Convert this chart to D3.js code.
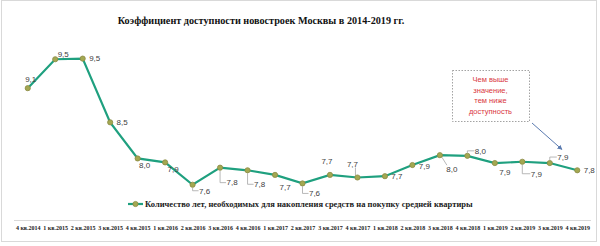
<!DOCTYPE html>
<html>
<head>
<meta charset="utf-8">
<script src="https://cdn.jsdelivr.net/npm/d3@7"></script>
<style>
  body { margin: 0; background: #fff; }
</style>
</head>
<body>
<div id="chart"></div>
<script>
// data
var quarters = ["4 кв.2014", "1 кв.2015", "2 кв.2015", "3 кв.2015", "4 кв.2015", "1 кв.2016", "2 кв.2016",
    "3 кв.2016", "4 кв.2016", "1 кв.2017", "2 кв.2017", "3 кв.2017", "4 кв.2017", "1 кв.2018", "2 кв.2018",
    "3 кв.2018", "4 кв.2018", "1 кв.2019", "2 кв.2019", "3 кв.2019", "4 кв.2019"];
var years = [9.06, 9.50, 9.51, 8.54, 7.99, 7.93, 7.59, 7.85, 7.81, 7.74, 7.61, 7.74, 7.70, 7.72, 7.89,
    8.04, 8.03, 7.92, 7.94, 7.92, 7.81];
var title = "Коэффициент доступности новостроек Москвы в 2014-2019 гг.";
var seriesName = "Количество лет, необходимых для накопления средств на покупку средней квартиры";
var note = ["Чем выше", "значение,", "тем ниже", "доступность"];

// label placement relative to each point (dx, dy, leader type)
var labelPos = [[3, -9], [8, -5], [12, 0], [12, 0], [7, 7], [8, 7], [12, 6, "e"], [12, 15, "e"], [12, 14, "e"],
    [10, 12], [12, 10, "e"], [-3, -14], [-5, -13, "d"], [12, 0], [12, 1], [12, 14, "d"], [13, -5, "e"],
    [10, 9], [14, 12, "e"], [13, -6, "e"], [12, 0]];

var width = 600, height = 246;

var svg = d3.select("#chart").append("svg")
    .attr("width", width)
    .attr("height", height);

svg.append("rect")
    .attr("x", 1.5).attr("y", 0.5)
    .attr("width", 595).attr("height", 241)
    .attr("fill", "#fff")
    .attr("stroke", "#d9d9d9");

var x = d3.scalePoint()
    .domain(quarters)
    .range([14, 591])
    .padding(0.5);

var y = d3.scaleLinear()
    .domain([7, 10])
    .range([223.5, 26.4]);

// title
svg.append("text")
    .attr("x", 261).attr("y", 24)
    .attr("text-anchor", "middle")
    .style("font-family", "'Liberation Serif', serif")
    .style("font-weight", "bold")
    .style("font-size", "10.2px")
    .attr("fill", "#111")
    .text(title);

// x axis
var xAxis = svg.append("g")
    .attr("transform", "translate(0,220)")
    .call(d3.axisBottom(x).tickSize(0).tickPadding(6));
xAxis.select(".domain").attr("stroke", "#d9d9d9").attr("d", "M14,0.5H591");
xAxis.selectAll("text")
    .style("font-family", "'Liberation Serif', serif")
    .style("font-weight", "bold")
    .style("font-size", "6px")
    .attr("fill", "#222");

// line
var line = d3.line()
    .x(function(d, i) { return x(quarters[i]); })
    .y(function(d) { return y(d); });

svg.append("path")
    .datum(years)
    .attr("fill", "none")
    .attr("stroke", "#1fa07f")
    .attr("stroke-width", 2.2)
    .attr("d", line);

// leader lines
var leaders = svg.append("g");
years.forEach(function(v, i) {
    var p = labelPos[i];
    if (!p[2]) return;
    var px = x(quarters[i]), py = y(v);
    var lx = px + p[0], ly = py + p[1];
    var d;
    if (p[2] == "e") {
        d = "M" + px + "," + (py + (p[1] > 0 ? 3 : -3)) + "V" + ly + "H" + (lx - 6);
    } else if (p[0] < 0) {
        d = "M" + (lx + 3) + "," + (ly + 3) + "L" + (px - 2) + "," + (py - 2);
    } else {
        d = "M" + (px + 2) + "," + (py + 2) + "L" + (lx - 5) + "," + (ly - 4);
    }
    leaders.append("path")
        .attr("d", d)
        .attr("fill", "none")
        .attr("stroke", "#a6a6a6")
        .attr("stroke-width", 0.8);
});

// markers
svg.append("g").selectAll("circle")
    .data(years)
    .enter().append("circle")
    .attr("cx", function(d, i) { return x(quarters[i]); })
    .attr("cy", function(d) { return y(d); })
    .attr("r", 2.6)
    .attr("fill", "#a3a851")
    .attr("stroke", "#8c8a45")
    .attr("stroke-width", 0.8);

// value labels
svg.append("g").selectAll("text")
    .data(years)
    .enter().append("text")
    .attr("x", function(d, i) { return x(quarters[i]) + labelPos[i][0]; })
    .attr("y", function(d, i) { return y(d) + labelPos[i][1]; })
    .attr("dy", "0.35em")
    .attr("text-anchor", "middle")
    .style("font-family", "'Liberation Sans', sans-serif")
    .style("font-size", "8px")
    .attr("fill", "#404040")
    .text(function(d) { return d3.format(".1f")(d).replace(".", ","); });

// legend
var legend = svg.append("g").attr("transform", "translate(128,204)");
legend.append("line")
    .attr("x1", 0).attr("x2", 15)
    .attr("stroke", "#1fa07f").attr("stroke-width", 2.2);
legend.append("circle")
    .attr("cx", 7.5).attr("r", 2.6)
    .attr("fill", "#a3a851").attr("stroke", "#8c8a45").attr("stroke-width", 0.8);
legend.append("text")
    .attr("x", 17).attr("dy", "0.35em")
    .style("font-family", "'Liberation Serif', serif")
    .style("font-weight", "bold")
    .style("font-size", "8.5px")
    .attr("fill", "#222")
    .text(seriesName);

// note box
svg.append("rect")
    .attr("x", 452.5).attr("y", 70.5)
    .attr("width", 77).attr("height", 51)
    .attr("fill", "#fff")
    .attr("stroke", "#8c8c8c")
    .attr("stroke-width", 0.8)
    .attr("stroke-dasharray", "1.5,1.5");
svg.append("g").selectAll("text")
    .data(note)
    .enter().append("text")
    .attr("x", 490.5)
    .attr("y", function(d, i) { return 79.5 + i * 10.5; })
    .attr("dy", "0.35em")
    .attr("text-anchor", "middle")
    .style("font-family", "'Liberation Sans', sans-serif")
    .style("font-size", "7.5px")
    .attr("fill", "#d9363e")
    .text(function(d) { return d; });

// arrow
svg.append("defs").append("marker")
    .attr("id", "arrow")
    .attr("viewBox", "0 0 10 10")
    .attr("refX", 9).attr("refY", 5)
    .attr("markerWidth", 5).attr("markerHeight", 5)
    .attr("orient", "auto")
    .append("path")
    .attr("d", "M0,0L10,5L0,10z")
    .attr("fill", "#5b7bb0");
svg.append("line")
    .attr("x1", 532).attr("y1", 123)
    .attr("x2", 562).attr("y2", 149.5)
    .attr("stroke", "#5b7bb0")
    .attr("stroke-width", 1)
    .attr("marker-end", "url(#arrow)");
</script>
</body>
</html>
